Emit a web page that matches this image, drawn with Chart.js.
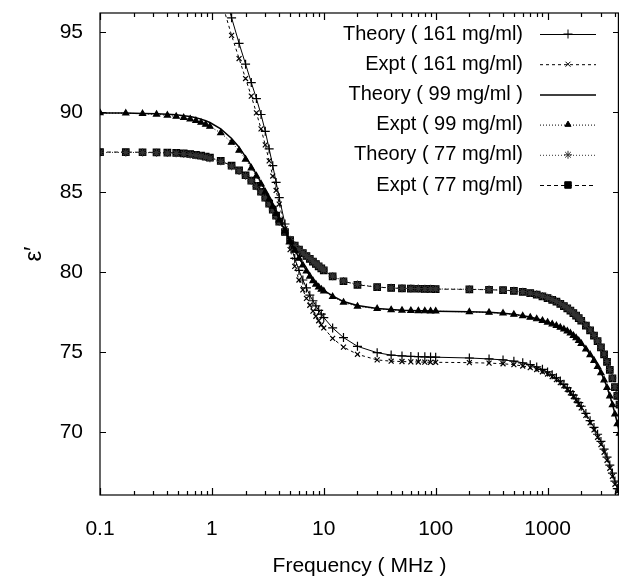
<!DOCTYPE html>
<html>
<head>
<meta charset="utf-8">
<script src="https://cdn.jsdelivr.net/npm/chart.js@4"></script>
<style>
  html, body { margin: 0; padding: 0; background: #fff; }
</style>
</head>
<body>
<canvas id="chart" width="619" height="585"></canvas>
<script>
// 周波数 (MHz) – 全系列で共通
const freq = [0.1, 0.17, 0.24, 0.32, 0.4, 0.48, 0.56, 0.64, 0.72, 0.8, 0.88, 0.96,
  1.2, 1.5, 1.75, 2, 2.25, 2.5, 2.75, 3, 3.25, 3.5, 3.75, 4,
  4.5, 5, 5.5, 6, 6.5, 7, 7.5, 8, 8.5, 9, 9.5, 10, 12, 15, 20,
  30, 40, 50, 60, 70, 80, 90, 100,
  200, 300, 400, 500, 600, 700, 800, 900, 1000,
  1100, 1200, 1300, 1400, 1500, 1600, 1700, 1800, 1900, 2000,
  2200, 2400, 2600, 2800, 3000, 3200, 3400, 3600, 3800, 4000, 4200, 4400];

const theory161 = [104.6, 104.5, 104.4, 104.2, 104.0, 103.7, 103.4, 103.0, 102.6, 102.1, 101.6, 101.0,
  98.3, 95.9, 94.3, 93.0, 91.85, 90.85, 89.85, 88.8, 87.7, 86.65, 85.6, 84.65,
  83.0, 81.75, 80.85, 80.1, 79.5, 79.0, 78.55, 78.2, 77.88, 77.6, 77.37, 77.15, 76.5, 75.9, 75.35,
  74.95, 74.8, 74.75, 74.72, 74.7, 74.69, 74.68, 74.67,
  74.62, 74.56, 74.5, 74.42, 74.32, 74.2, 74.06, 73.91, 73.75,
  73.57, 73.38, 73.18, 72.97, 72.75, 72.52, 72.3, 72.07, 71.83, 71.6,
  71.15, 70.7, 70.28, 69.85, 69.4, 68.92, 68.42, 67.92, 67.42, 66.92, 66.45, 66.0];

const expt161 = [103.2, 103.1, 103.0, 102.8, 102.6, 102.3, 102.0, 101.6, 101.2, 100.7, 100.2, 99.6,
  97.1, 94.8, 93.35, 92.1, 91.0, 89.95, 88.95, 87.95, 86.95, 86.0, 85.1, 84.25,
  82.7, 81.4, 80.35, 79.5, 78.88, 78.35, 77.92, 77.55, 77.23, 76.95, 76.7, 76.5, 75.85, 75.3, 74.85,
  74.5, 74.42, 74.4, 74.38, 74.37, 74.36, 74.35, 74.35,
  74.33, 74.3, 74.26, 74.2, 74.12, 74.02, 73.9, 73.76, 73.62,
  73.45, 73.27, 73.08, 72.88, 72.66, 72.44, 72.21, 71.98, 71.74, 71.5,
  71.03, 70.57, 70.12, 69.66, 69.2, 68.72, 68.22, 67.72, 67.22, 66.72, 66.25, 65.8];

const theory99 = [89.95, 89.94, 89.92, 89.9, 89.87, 89.83, 89.78, 89.72, 89.65, 89.56, 89.46, 89.35,
  88.95, 88.35, 87.8, 87.2, 86.65, 86.1, 85.6, 85.1, 84.6, 84.15, 83.7, 83.3,
  82.6, 81.95, 81.4, 80.9, 80.47, 80.1, 79.78, 79.5, 79.28, 79.1, 78.96, 78.85, 78.5, 78.15, 77.9,
  77.72, 77.65, 77.61, 77.59, 77.58, 77.57, 77.56, 77.55,
  77.52, 77.48, 77.42, 77.35, 77.27, 77.18, 77.08, 76.98, 76.87,
  76.77, 76.67, 76.56, 76.45, 76.33, 76.2, 76.05, 75.9, 75.72, 75.55,
  75.2, 74.85, 74.5, 74.12, 73.72, 73.28, 72.8, 72.28, 71.72, 71.15, 70.55, 69.95];

const expt99 = [89.95, 89.93, 89.9, 89.86, 89.8, 89.73, 89.65, 89.56, 89.46, 89.35, 89.23, 89.1,
  88.7, 88.1, 87.6, 87.05, 86.5, 86.0, 85.5, 85.0, 84.55, 84.1, 83.65, 83.25,
  82.55, 81.9, 81.35, 80.85, 80.42, 80.05, 79.73, 79.45, 79.23, 79.05, 78.91, 78.8, 78.45, 78.1, 77.85,
  77.7, 77.63, 77.6, 77.58, 77.57, 77.56, 77.55, 77.55,
  77.5, 77.47, 77.42, 77.34, 77.25, 77.16, 77.06, 76.96, 76.85,
  76.74, 76.64, 76.53, 76.42, 76.3, 76.17, 76.02, 75.87, 75.7, 75.52,
  75.17, 74.82, 74.46, 74.08, 73.68, 73.24, 72.76, 72.24, 71.68, 71.1, 70.5, 69.9];

const theory77 = [87.48, 87.48, 87.47, 87.46, 87.44, 87.42, 87.39, 87.35, 87.3, 87.25, 87.19, 87.12,
  86.92, 86.62, 86.32, 86.02, 85.7, 85.36, 85.0, 84.63, 84.25, 83.88, 83.5, 83.14,
  82.5, 82.02, 81.67, 81.42, 81.2, 81.02, 80.84, 80.67, 80.52, 80.37, 80.24, 80.12, 79.74, 79.44, 79.22,
  79.06, 79.01, 78.98, 78.97, 78.96, 78.95, 78.95, 78.94,
  78.92, 78.9, 78.87, 78.83, 78.77, 78.69, 78.6, 78.5, 78.39,
  78.28, 78.16, 78.03, 77.89, 77.75, 77.6, 77.45, 77.29, 77.13, 76.97,
  76.67, 76.37, 76.04, 75.69, 75.3, 74.87, 74.4, 73.9, 73.37, 72.82, 72.27, 71.72];

const expt77 = [87.5, 87.5, 87.49, 87.48, 87.47, 87.45, 87.42, 87.38, 87.33, 87.28, 87.22, 87.15,
  86.95, 86.65, 86.35, 86.05, 85.72, 85.38, 85.02, 84.65, 84.27, 83.9, 83.52, 83.15,
  82.5, 82.0, 81.65, 81.4, 81.18, 81.0, 80.82, 80.65, 80.5, 80.35, 80.22, 80.1, 79.72, 79.42, 79.2,
  79.05, 79.0, 78.97, 78.96, 78.95, 78.94, 78.94, 78.93,
  78.91, 78.89, 78.86, 78.82, 78.76, 78.68, 78.58, 78.48, 78.37,
  78.26, 78.14, 78.01, 77.87, 77.73, 77.58, 77.43, 77.27, 77.11, 76.95,
  76.65, 76.35, 76.02, 75.67, 75.28, 74.85, 74.38, 73.88, 73.35, 72.8, 72.25, 71.7];

// 軸の目盛り
const xTicks = [0.1, 1, 10, 100, 1000];
const yTicks = [70, 75, 80, 85, 90, 95];

const FONT = "'Liberation Sans', Arial, sans-serif";

function pts(ys) {
  return freq.map((f, i) => ({ x: f, y: ys[i] }));
}

// 系列ごとの見た目
const styles = [
  { label: "Theory ( 161 mg/ml)", data: theory161, dash: [], width: 1, point: "cross", r: 4.5, color: "#000" },
  { label: "Expt ( 161 mg/ml)", data: expt161, dash: [3, 3], width: 1, point: "crossRot", r: 3.5, color: "#000" },
  { label: "Theory ( 99 mg/ml )", data: theory99, dash: [], width: 1.5, point: "circle", r: 0, color: "#000" },
  { label: "Expt ( 99 mg/ml)", data: expt99, dash: [1, 2], width: 1, point: "triangle", r: 3.5, color: "#000" },
  { label: "Theory ( 77 mg/ml)", data: theory77, dash: [1, 2], width: 1, point: "star", r: 4, color: "#333" },
  { label: "Expt ( 77 mg/ml)", data: expt77, dash: [4, 3], width: 1, point: "rect", r: 4.6, color: "#000" }
];

const datasets = styles.map(s => ({
  label: s.label,
  data: pts(s.data),
  showLine: true,
  fill: false,
  borderColor: s.color,
  borderWidth: s.width,
  borderDash: s.dash,
  pointStyle: s.point,
  pointRadius: s.r,
  pointBorderWidth: 1.2,
  pointBorderColor: s.color,
  pointBackgroundColor: s.color
}));

// 枠と内向きの目盛り線
const frameTicks = {
  id: "frameTicks",
  afterDatasetsDraw(chart) {
    const { ctx, chartArea: a, scales } = chart;
    const x = scales.x, y = scales.y;
    ctx.save();
    ctx.strokeStyle = "#000";
    ctx.lineWidth = 1.2;
    ctx.setLineDash([]);
    ctx.strokeRect(a.left, a.top, a.right - a.left - 0.6, a.bottom - a.top);
    ctx.beginPath();
    yTicks.forEach(v => {
      const py = Math.round(y.getPixelForValue(v)) + 0.5;
      ctx.moveTo(a.left, py); ctx.lineTo(a.left + 6, py);
      ctx.moveTo(a.right, py); ctx.lineTo(a.right - 6, py);
    });
    for (let d = 0.1; d < 10000; d *= 10) {
      for (let k = 1; k <= 9; k++) {
        const v = d * k;
        if (v < x.min || v > x.max) continue;
        const px = Math.round(x.getPixelForValue(v)) + 0.5;
        const len = k === 1 ? 7 : 4;
        ctx.moveTo(px, a.bottom); ctx.lineTo(px, a.bottom - len);
        ctx.moveTo(px, a.top); ctx.lineTo(px, a.top + len);
      }
    }
    ctx.stroke();
    ctx.restore();
  }
};

// 凡例：右寄せの文字＋線見本（グラフ内右上）
const insideLegend = {
  id: "insideLegend",
  afterDraw(chart) {
    const { ctx, chartArea: a } = chart;
    ctx.save();
    ctx.font = "20px " + FONT;
    ctx.textAlign = "right";
    ctx.textBaseline = "middle";
    chart.data.datasets.forEach((ds, i) => {
      const yy = a.top + 21 + i * 30.2;
      ctx.fillStyle = "#000";
      ctx.fillText(ds.label, a.right - 96, yy);
      ctx.strokeStyle = ds.borderColor;
      ctx.lineWidth = ds.borderWidth;
      ctx.setLineDash(ds.borderDash);
      ctx.beginPath();
      ctx.moveTo(a.right - 79, yy + 0.5);
      ctx.lineTo(a.right - 23, yy + 0.5);
      ctx.stroke();
      ctx.setLineDash([]);
      if (ds.pointRadius > 0) {
        ctx.fillStyle = ds.pointBackgroundColor;
        ctx.strokeStyle = ds.pointBorderColor;
        ctx.lineWidth = 1;
        Chart.helpers.drawPoint(ctx, {
          pointStyle: ds.pointStyle, radius: ds.pointRadius, rotation: 0, borderWidth: 1
        }, a.right - 51, yy);
      }
    });
    ctx.restore();
  }
};

new Chart(document.getElementById("chart").getContext("2d"), {
  type: "scatter",
  data: { datasets: datasets },
  plugins: [frameTicks, insideLegend],
  options: {
    responsive: false,
    animation: false,
    layout: { autoPadding: false, padding: { top: 13, right: 0, left: 0, bottom: 0 } },
    plugins: {
      legend: { display: false },
      tooltip: { enabled: false }
    },
    scales: {
      x: {
        type: "logarithmic",
        min: 0.1,
        max: 4350,
        grid: { display: false, drawTicks: false },
        border: { display: false },
        afterBuildTicks: s => { s.ticks = xTicks.map(v => ({ value: v })); },
        afterFit: s => { s.height = 90; s.paddingLeft = 0; s.paddingRight = 0; },
        ticks: {
          autoSkip: false,
          maxRotation: 0,
          padding: 22,
          color: "#000",
          font: { family: FONT, size: 21 },
          callback: v => String(v)
        },
        title: {
          display: true,
          text: "Frequency ( MHz )",
          color: "#000",
          font: { family: FONT, size: 21 },
          padding: { top: 0, bottom: 6 }
        }
      },
      y: {
        min: 66.05,
        max: 96.2,
        grid: { display: false, drawTicks: false },
        border: { display: false },
        afterBuildTicks: s => { s.ticks = yTicks.map(v => ({ value: v })); },
        afterFit: s => { s.width = 100; s.paddingTop = 0; s.paddingBottom = 0; },
        ticks: {
          padding: 17,
          color: "#000",
          font: { family: FONT, size: 21 }
        },
        title: {
          display: true,
          text: "ε′",
          color: "#000",
          font: { family: FONT, size: 24 },
          padding: { top: 20, bottom: 0 }
        }
      }
    }
  }
});
</script>
</body>
</html>
